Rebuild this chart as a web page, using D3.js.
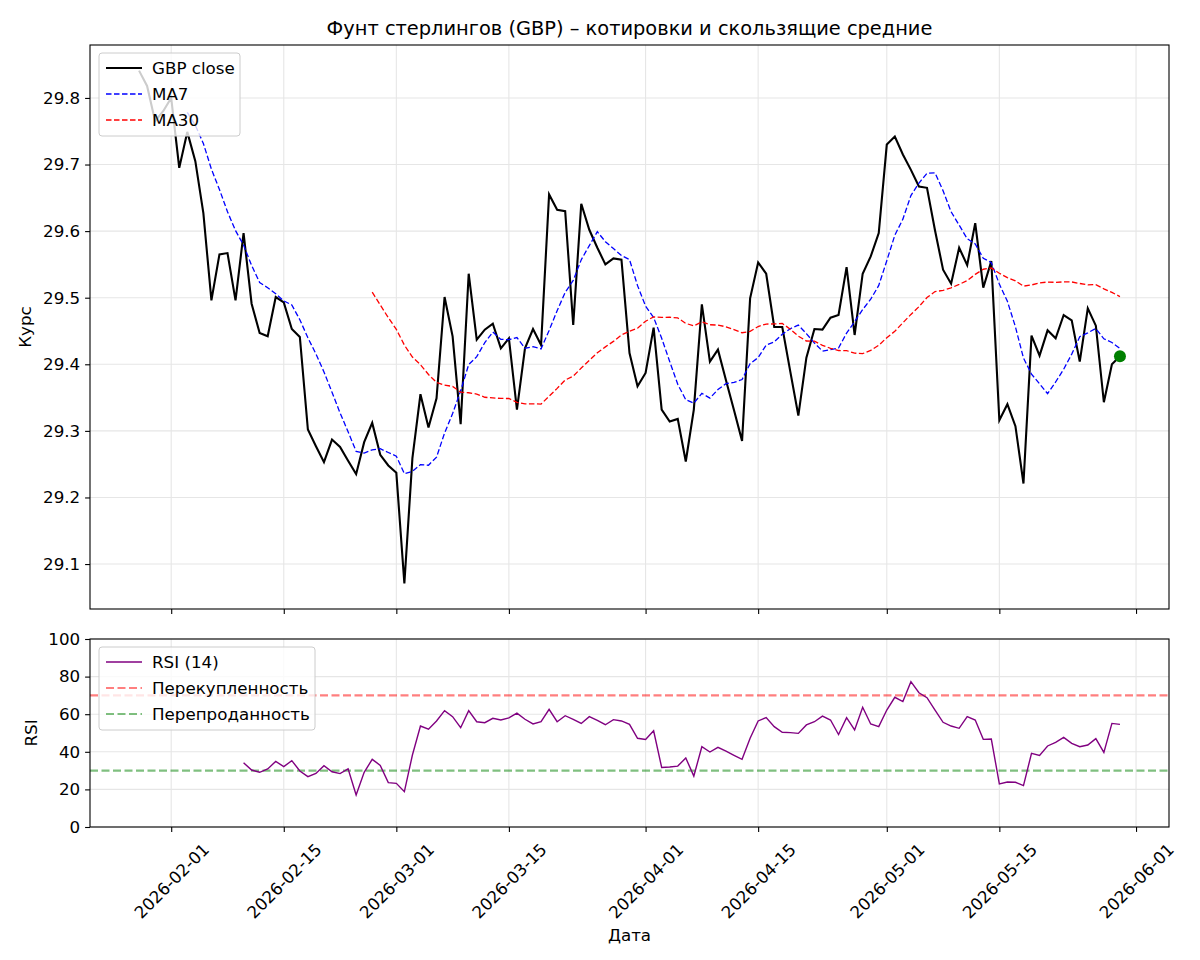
<!DOCTYPE html>
<html>
<head>
<meta charset="utf-8">
<script src="https://cdn.jsdelivr.net/npm/d3@7"></script>
<style>
  body { margin: 0; background: #fff; }
  text { font-family: "DejaVu Sans", sans-serif; fill: #000; }
</style>
</head>
<body>
<svg id="chart" width="1200" height="960"></svg>
<script>
// ---- data ----
const startDate = '2026-01-28';   // one close per day from here on

const closeValues = [
  29.841, 29.818, 29.765, 29.780, 29.800, 29.695, 29.749, 29.705, 29.627, 29.496,
  29.565, 29.567, 29.496, 29.597, 29.491, 29.447, 29.442, 29.501, 29.493, 29.453,
  29.441, 29.302, 29.277, 29.253, 29.287, 29.276, 29.255, 29.235, 29.283, 29.312,
  29.264, 29.248, 29.237, 29.071, 29.259, 29.355, 29.305, 29.349, 29.501, 29.442,
  29.310, 29.536, 29.437, 29.452, 29.461, 29.424, 29.439, 29.332, 29.424, 29.453,
  29.429, 29.655, 29.632, 29.630, 29.459, 29.641, 29.602, 29.575, 29.550, 29.559,
  29.557, 29.417, 29.367, 29.387, 29.455, 29.332, 29.314, 29.318, 29.254, 29.332,
  29.490, 29.404, 29.422, 29.376, 29.331, 29.285, 29.499, 29.553, 29.536, 29.456,
  29.456, 29.389, 29.323, 29.410, 29.453, 29.452, 29.470, 29.474, 29.546, 29.444,
  29.536, 29.562, 29.597, 29.730, 29.742, 29.715, 29.692, 29.667, 29.665, 29.601,
  29.542, 29.521, 29.575, 29.549, 29.612, 29.515, 29.555, 29.316, 29.340, 29.307,
  29.221, 29.443, 29.413, 29.451, 29.439, 29.474, 29.466, 29.404, 29.484, 29.458,
  29.343, 29.400, 29.412
];

const rsiStart = 13;   // first day index with an RSI value
const rsiValues = [
  34.2, 30.3, 29.1, 30.9, 34.9, 32.1, 35.3, 29.8, 26.8, 28.5,
  32.6, 29.4, 28.4, 30.9, 17.0, 29.1, 36.0, 32.8, 23.6, 23.2,
  18.8, 38.3, 53.7, 52.0, 56.4, 61.9, 58.7, 52.8, 61.9, 56.0,
  55.5, 57.8, 56.9, 58.0, 60.6, 57.3, 54.8, 56.0, 62.6, 56.0,
  59.2, 57.3, 55.1, 58.7, 56.7, 54.4, 57.1, 56.4, 54.6, 47.2,
  46.6, 51.2, 31.7, 31.9, 32.4, 36.7, 27.1, 42.7, 39.9, 42.4,
  40.3, 38.1, 36.0, 47.2, 56.4, 58.2, 53.4, 50.4, 50.2, 49.8,
  54.3, 56.0, 59.0, 56.9, 49.2, 58.2, 51.6, 63.7, 54.8, 53.4,
  62.2, 69.0, 66.7, 77.3, 71.4, 68.8, 62.2, 55.7, 53.7, 52.5,
  58.7, 56.9, 46.6, 46.8, 22.9, 23.9, 23.8, 22.0, 39.2, 38.1,
  43.1, 45.0, 47.7, 44.5, 42.7, 43.6, 47.0, 39.7, 55.1, 54.6
];

const xTickLabels = ['2026-02-01', '2026-02-15', '2026-03-01', '2026-03-15', '2026-04-01',
                     '2026-04-15', '2026-05-01', '2026-05-15', '2026-06-01'];
const priceTicks = [29.1, 29.2, 29.3, 29.4, 29.5, 29.6, 29.7, 29.8];
const rsiTicks = [0, 20, 40, 60, 80, 100];
const overbought = 70;
const oversold = 30;

const titleText = 'Фунт стерлингов (GBP) – котировки и скользящие средние';
const priceLegend = ['GBP close', 'MA7', 'MA30'];
const rsiLegend = ['RSI (14)', 'Перекупленность', 'Перепроданность'];

// ---- derived ----
const parseDay = d3.utcParse('%Y-%m-%d');
const day0 = parseDay(startDate);
const closes = closeValues.map((v, i) => ({date: d3.utcDay.offset(day0, i), value: v}));
const ma7 = rolling(closes, 7);
const ma30 = rolling(closes, 30);
const rsi = rsiValues.map((v, i) => ({date: closes[rsiStart + i].date, value: v}));

function rolling(points, n) {
  return points.map((p, i) => ({
    date: p.date,
    value: i < n - 1 ? null : d3.mean(points.slice(i - n + 1, i + 1), d => d.value)
  }));
}

// ---- layout ----
const left = 90, right = 1169;
const top1 = 45, bottom1 = 609;
const top2 = 639, bottom2 = 827;
const fontSize = 16.7;
const tickLen = 4.9;
const gridColor = '#e6e6e6';

const svg = d3.select('#chart');

const dateExtent = d3.extent(closes, d => d.date);
const span = dateExtent[1] - dateExtent[0];
const x = d3.scaleUtc()
  .domain([new Date(+dateExtent[0] - span * 0.05), new Date(+dateExtent[1] + span * 0.05)])
  .range([left, right]);

const allPrices = closes.map(d => d.value);
const pMin = d3.min(allPrices), pMax = d3.max(allPrices);
const pPad = (pMax - pMin) * 0.05;
const y1 = d3.scaleLinear().domain([pMin - pPad, pMax + pPad]).range([bottom1, top1]);
const y2 = d3.scaleLinear().domain([0, 100]).range([bottom2, top2]);

const xTickDates = xTickLabels.map(parseDay);

// ---- grids ----
function drawGrid(g, yScale, yTicks, yTop, yBottom) {
  g.selectAll('.vgrid').data(xTickDates).enter().append('line')
    .attr('x1', d => x(d)).attr('x2', d => x(d))
    .attr('y1', yTop).attr('y2', yBottom)
    .attr('stroke', gridColor).attr('stroke-width', 1.1);
  g.selectAll('.hgrid').data(yTicks).enter().append('line')
    .attr('x1', left).attr('x2', right)
    .attr('y1', d => yScale(d)).attr('y2', d => yScale(d))
    .attr('stroke', gridColor).attr('stroke-width', 1.1);
}

const panel1 = svg.append('g');
const panel2 = svg.append('g');
drawGrid(panel1, y1, priceTicks, top1, bottom1);
drawGrid(panel2, y2, rsiTicks, top2, bottom2);

// ---- price panel ----
const line1 = d3.line()
  .defined(d => d.value !== null)
  .x(d => x(d.date))
  .y(d => y1(d.value));

panel1.append('path').datum(closes)
  .attr('d', line1).attr('fill', 'none')
  .attr('stroke', '#000').attr('stroke-width', 2.1).attr('stroke-linejoin', 'miter');

panel1.append('path').datum(ma7)
  .attr('d', line1).attr('fill', 'none')
  .attr('stroke', '#0000ff').attr('stroke-width', 1.3).attr('stroke-dasharray', '5.5,2.5');

panel1.append('path').datum(ma30)
  .attr('d', line1).attr('fill', 'none')
  .attr('stroke', '#ff0000').attr('stroke-width', 1.3).attr('stroke-dasharray', '5.5,2.5');

const last = closes[closes.length - 1];
panel1.append('circle')
  .attr('cx', x(last.date)).attr('cy', y1(last.value)).attr('r', 6)
  .attr('fill', '#008000');

// ---- RSI panel ----
const line2 = d3.line()
  .x(d => x(d.date))
  .y(d => y2(d.value));

panel2.append('line')
  .attr('x1', left).attr('x2', right)
  .attr('y1', y2(overbought)).attr('y2', y2(overbought))
  .attr('stroke', '#ff0000').attr('stroke-opacity', 0.5)
  .attr('stroke-width', 2.1).attr('stroke-dasharray', '8,3.5');

panel2.append('line')
  .attr('x1', left).attr('x2', right)
  .attr('y1', y2(oversold)).attr('y2', y2(oversold))
  .attr('stroke', '#008000').attr('stroke-opacity', 0.5)
  .attr('stroke-width', 2.1).attr('stroke-dasharray', '8,3.5');

panel2.append('path').datum(rsi)
  .attr('d', line2).attr('fill', 'none')
  .attr('stroke', '#800080').attr('stroke-width', 1.4);

// ---- axes ----
function styleAxis(g) {
  g.select('.domain').remove();
  g.selectAll('.tick line').attr('stroke', '#000').attr('stroke-width', 1.1);
  g.selectAll('.tick text').attr('font-size', fontSize).attr('fill', '#000')
    .attr('font-family', '"DejaVu Sans", sans-serif');
}

svg.append('g').attr('transform', `translate(${left},0)`)
  .call(d3.axisLeft(y1).tickValues(priceTicks).tickFormat(d3.format('.1f'))
    .tickSize(tickLen).tickPadding(4.9))
  .call(styleAxis);

svg.append('g').attr('transform', `translate(0,${bottom1})`)
  .call(d3.axisBottom(x).tickValues(xTickDates).tickFormat('').tickSize(tickLen))
  .call(styleAxis);

svg.append('g').attr('transform', `translate(${left},0)`)
  .call(d3.axisLeft(y2).tickValues(rsiTicks).tickFormat(d3.format('d'))
    .tickSize(tickLen).tickPadding(4.9))
  .call(styleAxis);

const xAxis2 = svg.append('g').attr('transform', `translate(0,${bottom2})`)
  .call(d3.axisBottom(x).tickValues(xTickDates).tickFormat(d3.utcFormat('%Y-%m-%d'))
    .tickSize(tickLen))
  .call(styleAxis);

xAxis2.selectAll('.tick text')
  .attr('text-anchor', 'middle')
  .attr('dy', '0.35em')
  .attr('y', 0)
  .attr('transform', 'translate(0,54) rotate(-45)');

// spines
[[top1, bottom1], [top2, bottom2]].forEach(([t, b]) => {
  svg.append('rect')
    .attr('x', left).attr('y', t)
    .attr('width', right - left).attr('height', b - t)
    .attr('fill', 'none').attr('stroke', '#000').attr('stroke-width', 1.1);
});

// ---- labels ----
svg.append('text')
  .attr('x', (left + right) / 2).attr('y', 35)
  .attr('text-anchor', 'middle').attr('font-size', 19.4)
  .text(titleText);

svg.append('text')
  .attr('transform', `translate(25,${(top1 + bottom1) / 2}) rotate(-90)`)
  .attr('text-anchor', 'middle').attr('dy', '0.35em').attr('font-size', fontSize)
  .text('Курс');

svg.append('text')
  .attr('transform', `translate(31,${(top2 + bottom2) / 2}) rotate(-90)`)
  .attr('text-anchor', 'middle').attr('dy', '0.35em').attr('font-size', fontSize)
  .text('RSI');

svg.append('text')
  .attr('x', (left + right) / 2).attr('y', 935)
  .attr('text-anchor', 'middle').attr('dy', '0.35em').attr('font-size', fontSize)
  .text('Дата');

// ---- legends ----
function drawLegend(x0, y0, w, h, items) {
  const g = svg.append('g').attr('transform', `translate(${x0},${y0})`);
  g.append('rect')
    .attr('width', w).attr('height', h).attr('rx', 3)
    .attr('fill', '#fff').attr('fill-opacity', 0.8)
    .attr('stroke', '#cccccc').attr('stroke-width', 1);
  const rows = g.selectAll('.row').data(items).enter().append('g')
    .attr('transform', (d, i) => `translate(0,${15 + i * 26})`);
  rows.append('line')
    .attr('x1', 7).attr('x2', 43)
    .attr('stroke', d => d.color)
    .attr('stroke-opacity', d => d.opacity || 1)
    .attr('stroke-width', d => d.width)
    .attr('stroke-dasharray', d => d.dash || null);
  rows.append('text')
    .attr('x', 53).attr('dy', '0.35em').attr('font-size', fontSize)
    .text(d => d.label);
}

drawLegend(99, 53, 141, 83, [
  {label: priceLegend[0], color: '#000', width: 2.1},
  {label: priceLegend[1], color: '#0000ff', width: 1.3, dash: '5.5,2.5'},
  {label: priceLegend[2], color: '#ff0000', width: 1.3, dash: '5.5,2.5'}
]);

drawLegend(99, 647, 216, 83, [
  {label: rsiLegend[0], color: '#800080', width: 1.4},
  {label: rsiLegend[1], color: '#ff0000', width: 2.1, dash: '8,3.5', opacity: 0.5},
  {label: rsiLegend[2], color: '#008000', width: 2.1, dash: '8,3.5', opacity: 0.5}
]);
</script>
</body>
</html>
